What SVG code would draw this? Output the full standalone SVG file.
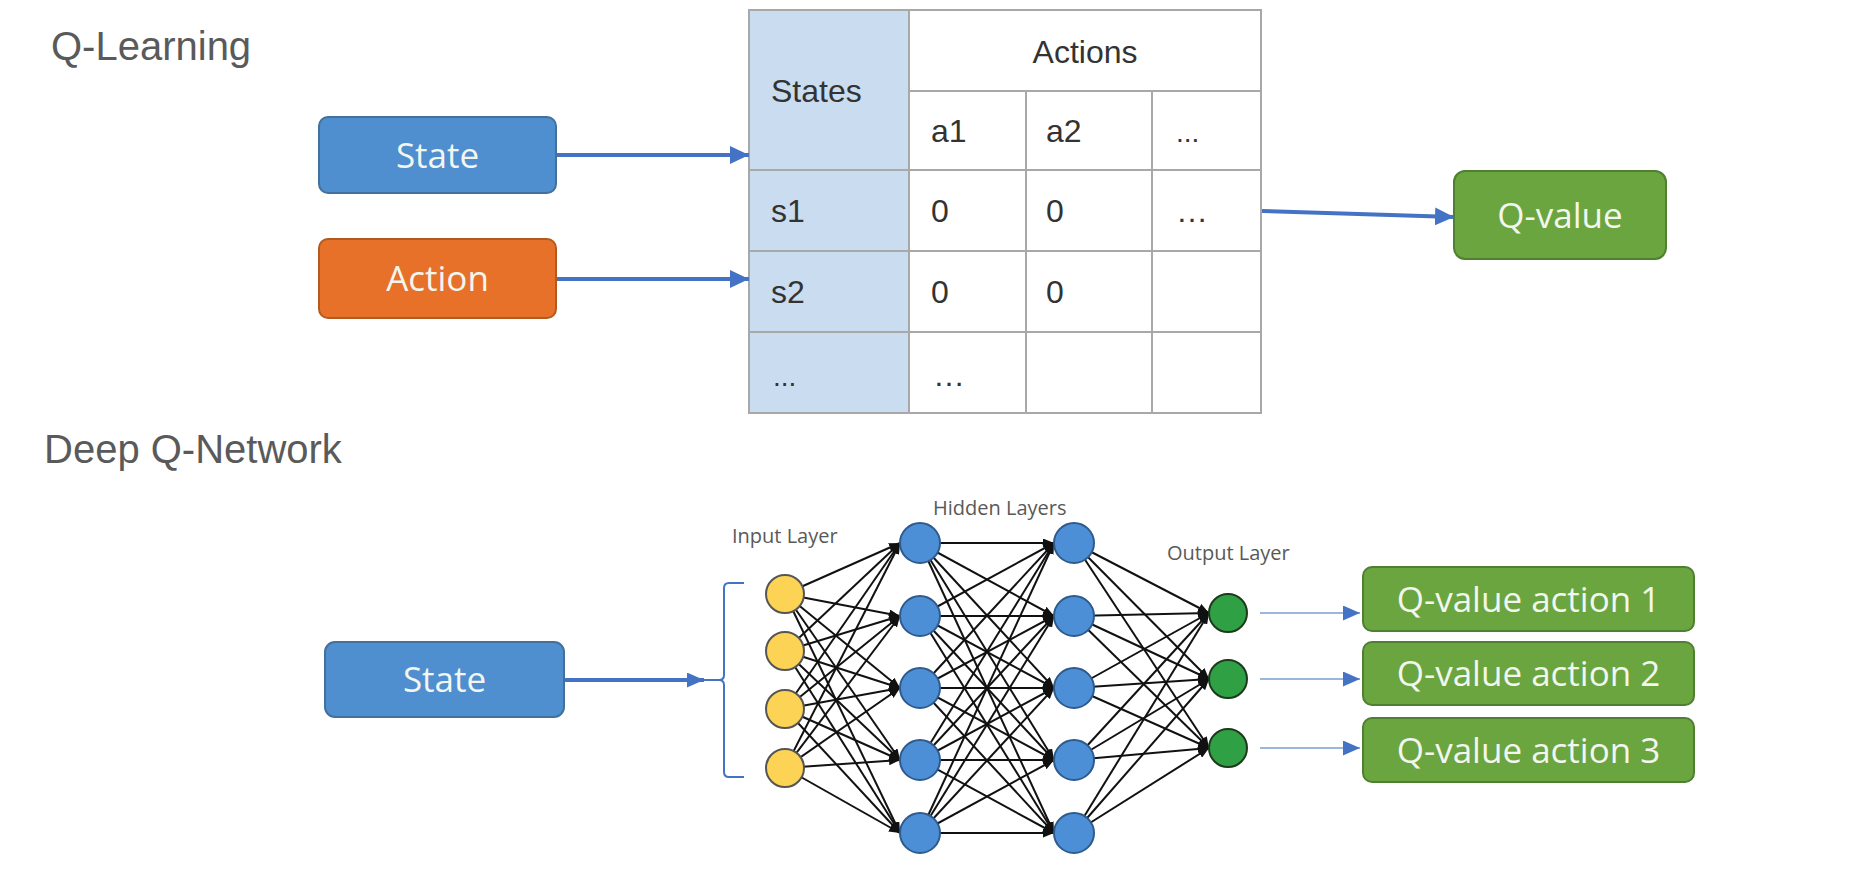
<svg xmlns="http://www.w3.org/2000/svg" width="1859" height="873" viewBox="0 0 1859 873">
<style>
.title{font-family:"Liberation Sans",Arial,sans-serif;font-size:40px;fill:#5a5a5a}
.box-blue{fill:#4f8ecf;stroke:#41719c;stroke-width:2}
.box-orange{fill:#e8712a;stroke:#b35a20;stroke-width:2}
.box-green{fill:#6aa540;stroke:#4f7f30;stroke-width:2}
.lbl{font-family:"Open Sans","Liberation Sans",sans-serif;font-size:35px;fill:#f3f6ef;text-anchor:middle}
.tcell{font-family:"Liberation Sans",Arial,sans-serif;font-size:32px;fill:#333}
.grid{stroke:#a8a8a8;stroke-width:2;fill:none}
.thick{stroke:#4472c4;stroke-width:4;fill:none}
.thin{stroke:#7b9bd6;stroke-width:1.6;fill:none}
.nn line{stroke:#111;stroke-width:2}
.layer{font-family:"Open Sans","Liberation Sans",sans-serif;font-size:20px;fill:#595959}
.in{fill:#fcd354;stroke:#555;stroke-width:2}
.hid{fill:#4d8fd7;stroke:#2e5a8c;stroke-width:2}
.out{fill:#2fa044;stroke:#1e3a1e;stroke-width:2}
</style>
<defs>
<marker id="big" markerUnits="userSpaceOnUse" markerWidth="19" markerHeight="18" refX="19" refY="9" orient="auto"><path d="M0,0 L19,9 L0,18 z" fill="#4472c4"/></marker>
<marker id="mid" markerUnits="userSpaceOnUse" markerWidth="17" markerHeight="15" refX="17" refY="7.5" orient="auto"><path d="M0,0 L17,7.5 L0,15 z" fill="#4472c4"/></marker>
<marker id="sm" markerUnits="userSpaceOnUse" markerWidth="11" markerHeight="9" refX="11" refY="4.5" orient="auto"><path d="M0,0 L11,4.5 L0,9 z" fill="#111"/></marker>
</defs>
<rect width="1859" height="873" fill="#fff"/>

<text class="title" x="51" y="60">Q-Learning</text>
<text class="title" x="44" y="463">Deep Q-Network</text>

<g id="qtable">
<rect x="749" y="10" width="160" height="403" fill="#c9dcf0"/>
<rect x="909" y="10" width="352" height="403" fill="#fff"/>
<rect class="grid" x="749" y="10" width="512" height="403"/>
<path class="grid" d="M909,10 V413 M1026,91 V413 M1152,91 V413 M909,91 H1261 M749,170 H1261 M749,251 H1261 M749,332 H1261"/>
<text class="tcell" x="771" y="102">States</text>
<text class="tcell" x="1085" y="63" text-anchor="middle">Actions</text>
<text class="tcell" x="931" y="142">a1</text>
<text class="tcell" x="1046" y="142">a2</text>
<text class="tcell" x="1176" y="142" style="font-size:28px">...</text>
<text class="tcell" x="771" y="222">s1</text>
<text class="tcell" x="931" y="222">0</text>
<text class="tcell" x="1046" y="222">0</text>
<text class="tcell" x="1176" y="222">…</text>
<text class="tcell" x="771" y="303">s2</text>
<text class="tcell" x="931" y="303">0</text>
<text class="tcell" x="1046" y="303">0</text>
<text class="tcell" x="773" y="386" style="font-size:28px">...</text>
<text class="tcell" x="933" y="386">…</text>
</g>

<g id="connectors">
<line class="thick" x1="557" y1="155" x2="749" y2="155" marker-end="url(#big)"/>
<line class="thick" x1="557" y1="279" x2="749" y2="279" marker-end="url(#big)"/>
<line class="thick" x1="1262" y1="211" x2="1454" y2="217" marker-end="url(#big)"/>
<line class="thick" x1="565" y1="680" x2="704" y2="680" marker-end="url(#mid)"/>
<path d="M744,583 H729 Q724,583 724,588 V675 Q724,680 719,680 H704 M719,680 Q724,680 724,685 V772 Q724,777 729,777 H744" stroke="#4472c4" stroke-width="2" fill="none"/>
<line class="thin" x1="1260" y1="613" x2="1360" y2="613" marker-end="url(#mid)"/>
<line class="thin" x1="1260" y1="679" x2="1360" y2="679" marker-end="url(#mid)"/>
<line class="thin" x1="1260" y1="748" x2="1360" y2="748" marker-end="url(#mid)"/>
<g class="nn" marker-end="url(#sm)">
<line x1="785" y1="594" x2="900" y2="543"/><line x1="785" y1="594" x2="900" y2="616"/><line x1="785" y1="594" x2="900" y2="688"/><line x1="785" y1="594" x2="900" y2="760"/><line x1="785" y1="594" x2="900" y2="833"/>
<line x1="785" y1="651" x2="900" y2="543"/><line x1="785" y1="651" x2="900" y2="616"/><line x1="785" y1="651" x2="900" y2="688"/><line x1="785" y1="651" x2="900" y2="760"/><line x1="785" y1="651" x2="900" y2="833"/>
<line x1="785" y1="709" x2="900" y2="543"/><line x1="785" y1="709" x2="900" y2="616"/><line x1="785" y1="709" x2="900" y2="688"/><line x1="785" y1="709" x2="900" y2="760"/><line x1="785" y1="709" x2="900" y2="833"/>
<line x1="785" y1="768" x2="900" y2="543"/><line x1="785" y1="768" x2="900" y2="616"/><line x1="785" y1="768" x2="900" y2="688"/><line x1="785" y1="768" x2="900" y2="760"/><line x1="785" y1="768" x2="900" y2="833"/>
<line x1="920" y1="543" x2="1054" y2="543"/><line x1="920" y1="543" x2="1054" y2="616"/><line x1="920" y1="543" x2="1054" y2="688"/><line x1="920" y1="543" x2="1054" y2="760"/><line x1="920" y1="543" x2="1054" y2="833"/>
<line x1="920" y1="616" x2="1054" y2="543"/><line x1="920" y1="616" x2="1054" y2="616"/><line x1="920" y1="616" x2="1054" y2="688"/><line x1="920" y1="616" x2="1054" y2="760"/><line x1="920" y1="616" x2="1054" y2="833"/>
<line x1="920" y1="688" x2="1054" y2="543"/><line x1="920" y1="688" x2="1054" y2="616"/><line x1="920" y1="688" x2="1054" y2="688"/><line x1="920" y1="688" x2="1054" y2="760"/><line x1="920" y1="688" x2="1054" y2="833"/>
<line x1="920" y1="760" x2="1054" y2="543"/><line x1="920" y1="760" x2="1054" y2="616"/><line x1="920" y1="760" x2="1054" y2="688"/><line x1="920" y1="760" x2="1054" y2="760"/><line x1="920" y1="760" x2="1054" y2="833"/>
<line x1="920" y1="833" x2="1054" y2="543"/><line x1="920" y1="833" x2="1054" y2="616"/><line x1="920" y1="833" x2="1054" y2="688"/><line x1="920" y1="833" x2="1054" y2="760"/><line x1="920" y1="833" x2="1054" y2="833"/>
<line x1="1074" y1="543" x2="1209" y2="613"/><line x1="1074" y1="543" x2="1209" y2="679"/><line x1="1074" y1="543" x2="1209" y2="748"/>
<line x1="1074" y1="616" x2="1209" y2="613"/><line x1="1074" y1="616" x2="1209" y2="679"/><line x1="1074" y1="616" x2="1209" y2="748"/>
<line x1="1074" y1="688" x2="1209" y2="613"/><line x1="1074" y1="688" x2="1209" y2="679"/><line x1="1074" y1="688" x2="1209" y2="748"/>
<line x1="1074" y1="760" x2="1209" y2="613"/><line x1="1074" y1="760" x2="1209" y2="679"/><line x1="1074" y1="760" x2="1209" y2="748"/>
<line x1="1074" y1="833" x2="1209" y2="613"/><line x1="1074" y1="833" x2="1209" y2="679"/><line x1="1074" y1="833" x2="1209" y2="748"/>
</g>
</g>

<g id="state-top"><rect class="box-blue" x="319" y="117" width="237" height="76" rx="9"/><text class="lbl" x="437.5" y="167.5">State</text></g>
<g id="action"><rect class="box-orange" x="319" y="239" width="237" height="79" rx="9"/><text class="lbl" x="437.5" y="291">Action</text></g>
<g id="qvalue"><rect class="box-green" x="1454" y="171" width="212" height="88" rx="11"/><text class="lbl" x="1560" y="227.5">Q-value</text></g>

<g id="state-bottom"><rect class="box-blue" x="325" y="642" width="239" height="75" rx="10"/><text class="lbl" x="444.5" y="692">State</text></g>

<g id="input-layer">
<text class="layer" x="732" y="543">Input Layer</text>
<circle class="in" cx="785" cy="594" r="19"/><circle class="in" cx="785" cy="651" r="19"/><circle class="in" cx="785" cy="709" r="19"/><circle class="in" cx="785" cy="768" r="19"/>
</g>
<g id="hidden-layers">
<text class="layer" x="933" y="515">Hidden Layers</text>
<circle class="hid" cx="920" cy="543" r="20"/><circle class="hid" cx="920" cy="616" r="20"/><circle class="hid" cx="920" cy="688" r="20"/><circle class="hid" cx="920" cy="760" r="20"/><circle class="hid" cx="920" cy="833" r="20"/>
<circle class="hid" cx="1074" cy="543" r="20"/><circle class="hid" cx="1074" cy="616" r="20"/><circle class="hid" cx="1074" cy="688" r="20"/><circle class="hid" cx="1074" cy="760" r="20"/><circle class="hid" cx="1074" cy="833" r="20"/>
</g>
<g id="output-layer">
<text class="layer" x="1167" y="560">Output Layer</text>
<circle class="out" cx="1228" cy="613" r="19"/><circle class="out" cx="1228" cy="679" r="19"/><circle class="out" cx="1228" cy="748" r="19"/>
</g>

<g id="qa1"><rect class="box-green" x="1363" y="567" width="331" height="64" rx="9"/><text class="lbl" x="1528.5" y="611.5">Q-value action 1</text></g>
<g id="qa2"><rect class="box-green" x="1363" y="642" width="331" height="63" rx="9"/><text class="lbl" x="1528.5" y="686">Q-value action 2</text></g>
<g id="qa3"><rect class="box-green" x="1363" y="718" width="331" height="64" rx="9"/><text class="lbl" x="1528.5" y="762.5">Q-value action 3</text></g>
</svg>
